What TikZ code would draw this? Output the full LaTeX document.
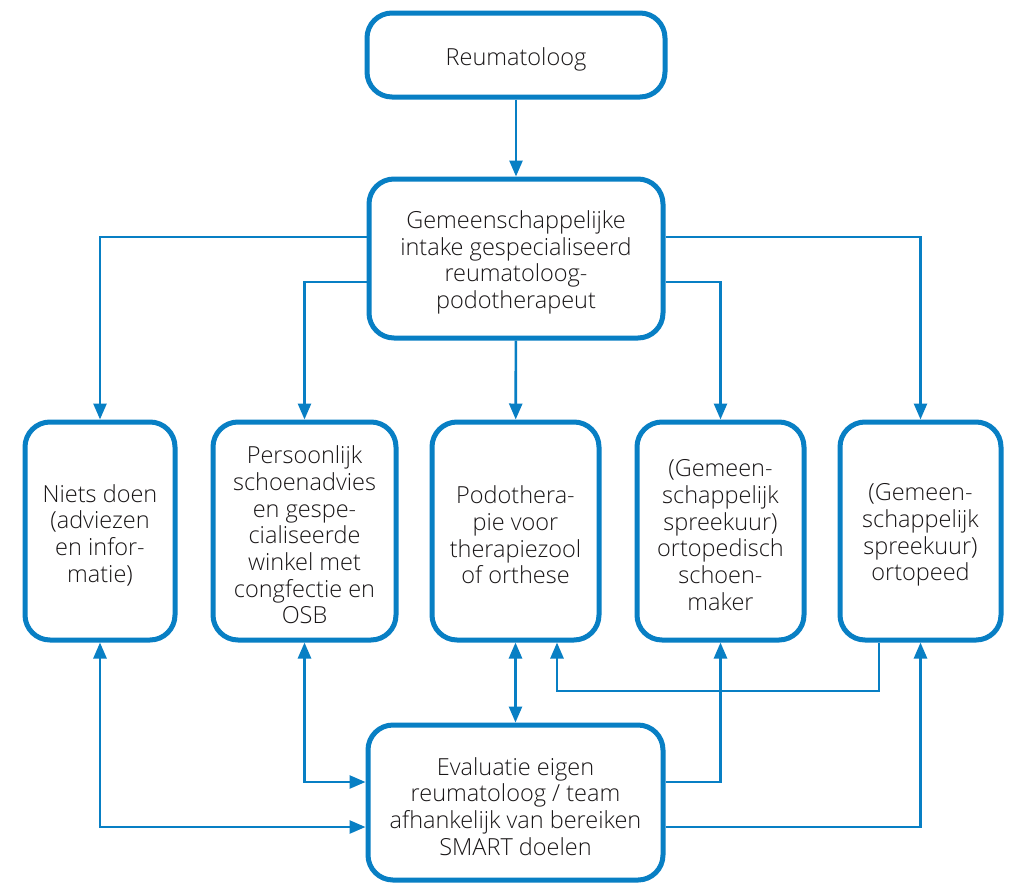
\documentclass[tikz,border=0pt]{standalone}
\usepackage{fontspec}
\setmainfont{Open Sans Light}
\usetikzlibrary{arrows.meta}
\definecolor{lblue}{RGB}{8,127,196}
\definecolor{ink}{RGB}{25,22,23}
\begin{document}
\begin{tikzpicture}[x=1pt,y=-1pt,
  box/.style={draw=lblue, line width=5pt, rounded corners=25pt, inner sep=0pt, fill=white},
  txt/.style={align=center, text=ink, font=\fontsize{23.5}{26.7}\selectfont, yshift=-4pt, inner sep=0pt},
  conn/.style={draw=lblue, line width=2.6pt, -{Triangle[length=16pt,width=13pt]}},
  dconn/.style={draw=lblue, line width=2.6pt, {Triangle[length=16pt,width=13pt]}-{Triangle[length=16pt,width=13pt]}}]
\useasboundingbox[fill=white] (0,0) rectangle (1009,884);

\node[box, minimum width=298pt, minimum height=84pt,
  label={[txt]center:Reumatoloog}] (top) at (516,55) {};
\node[box, minimum width=294pt, minimum height=159pt,
  label={[txt]center:Gemeenschappelijke\\intake gespecialiseerd\\reumatoloog-\\podotherapeut}] (intake) at (516,258.5) {};

\node[box, minimum width=150pt, minimum height=218pt,
  label={[txt]center:Niets doen\\(adviezen\\en infor-\\matie)}] (b1) at (100,531) {};
\node[box, minimum width=183pt, minimum height=218pt,
  label={[txt]center:Persoonlijk\\schoenadvies\\en gespe-\\cialiseerde\\winkel met\\congfectie en\\OSB}] (b2) at (304.5,531) {};
\node[box, minimum width=167pt, minimum height=218pt,
  label={[txt]center:Podothera-\\pie voor\\therapiezool\\of orthese}] (b3) at (515.5,531) {};
\node[box, minimum width=167pt, minimum height=218pt,
  label={[txt]center:(Gemeen-\\schappelijk\\spreekuur)\\ortopedisch\\schoen-\\maker}] (b4) at (720.5,531) {};
\node[box, minimum width=161pt, minimum height=218pt,
  label={[txt]center:(Gemeen-\\schappelijk\\spreekuur)\\ortopeed}] (b5) at (920.5,531) {};

\node[box, minimum width=295pt, minimum height=155pt,
  label={[txt]center:Evaluatie eigen\\reumatoloog / team\\afhankelijk van bereiken\\SMART doelen}] (eval) at (515.5,802.5) {};

\coordinate (yA) at (0,237);
\coordinate (yB) at (0,282);
\coordinate (yC) at (879,691);
\coordinate (xC) at (557,0);
\coordinate (yD) at (0,782);
\coordinate (yE) at (0,827);

\draw[conn] (top) -- (intake);
\draw[conn] (intake.west |- yA) -| (b1.north);
\draw[conn] (intake.west |- yB) -| (b2.north);
\draw[conn] (intake) -- (b3);
\draw[conn] (intake.east |- yB) -| (b4.north);
\draw[conn] (intake.east |- yA) -| (b5.north);

\draw[dconn] (b3) -- (eval);
\draw[conn] (b5.south -| yC) -- (yC) -| (b3.south -| xC);
\draw[dconn] (b2.south) |- (eval.west |- yD);
\draw[dconn] (b1.south) |- (eval.west |- yE);
\draw[conn] (eval.east |- yD) -| (b4.south);
\draw[conn] (eval.east |- yE) -| (b5.south);
\end{tikzpicture}
\end{document}
